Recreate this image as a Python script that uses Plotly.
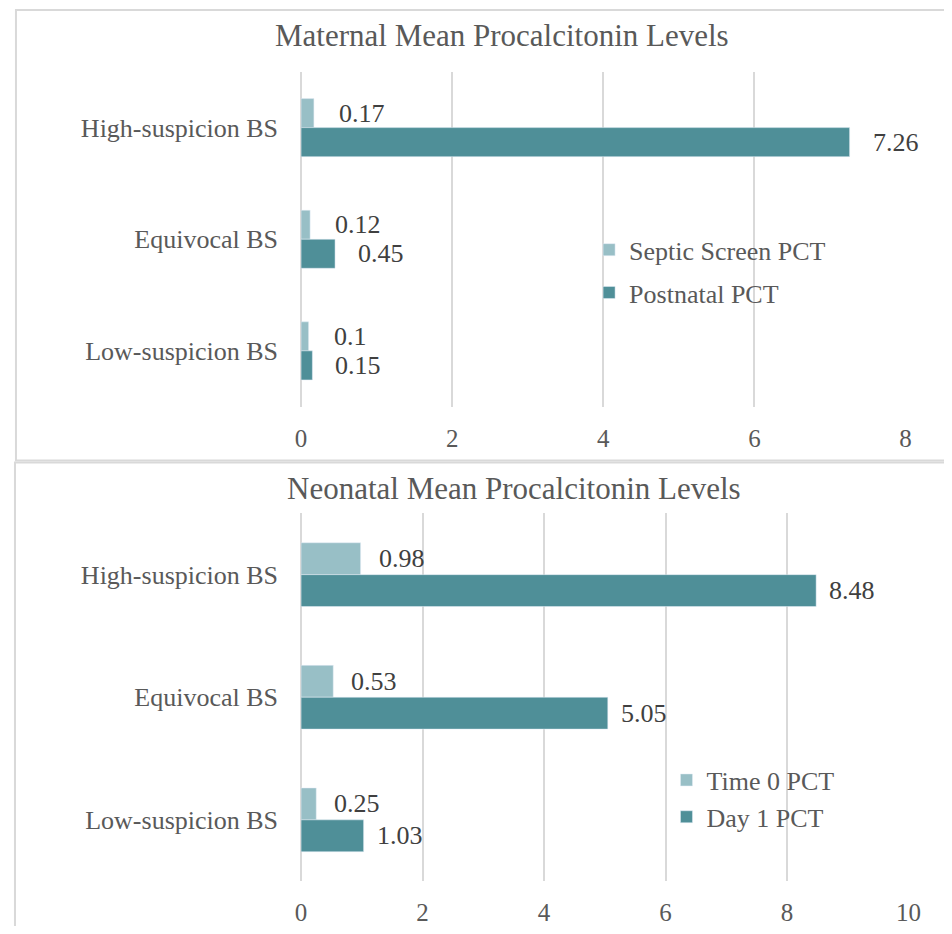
import plotly.graph_objects as go

categories = ["High-suspicion BS", "Equivocal BS", "Low-suspicion BS"]

maternal_septic = [0.17, 0.12, 0.10]
maternal_postnatal = [7.26, 0.45, 0.15]
maternal_labels_septic = ["0.17", "0.12", "0.1"]
maternal_labels_postnatal = ["7.26", "0.45", "0.15"]

neonatal_time0 = [0.98, 0.53, 0.25]
neonatal_day1 = [8.48, 5.05, 1.03]
neonatal_labels_time0 = ["0.98", "0.53", "0.25"]
neonatal_labels_day1 = ["8.48", "5.05", "1.03"]

maternal_ticks = [0, 2, 4, 6, 8]
neonatal_ticks = [0, 2, 4, 6, 8, 10]

LIGHT = "#98BFC6"
DARK = "#4F8F98"
GRID = "#D9D9D9"
TXT = "#595959"
LBL = "#404040"
FONT = "Times New Roman, Liberation Serif, DejaVu Serif, serif"

# page body has an 8px margin; the figure is sized to fit inside the window
OX, OY = 8, 8
W, H = 952 - 2 * OX, 934 - 2 * OY


def px(x):
    return (x - OX) / W


def py(y):
    return 1 - (y - OY) / H


fig = go.Figure()

fig.add_trace(go.Bar(y=categories, x=maternal_septic, orientation="h", name="Septic Screen PCT",
                     marker_color=LIGHT, xaxis="x", yaxis="y", legend="legend",
                     legendgroup="a"))
fig.add_trace(go.Bar(y=categories, x=maternal_postnatal, orientation="h", name="Postnatal PCT",
                     marker_color=DARK, xaxis="x", yaxis="y", legend="legend",
                     legendgroup="b"))
fig.add_trace(go.Bar(y=categories, x=neonatal_time0, orientation="h", name="Time 0 PCT",
                     marker_color=LIGHT, xaxis="x2", yaxis="y2", legend="legend2",
                     legendgroup="c"))
fig.add_trace(go.Bar(y=categories, x=neonatal_day1, orientation="h", name="Day 1 PCT",
                     marker_color=DARK, xaxis="x2", yaxis="y2", legend="legend2",
                     legendgroup="d"))

annotations = []


def add_labels(vals, labels, offset, xref, yref, shift):
    for i, (v, t) in enumerate(zip(vals, labels)):
        annotations.append(dict(x=v, y=i + offset, xref=xref, yref=yref, text=t,
                                showarrow=False, xanchor="left", xshift=shift,
                                font=dict(family=FONT, size=26, color=LBL)))


add_labels(maternal_septic, maternal_labels_septic, -0.13, "x", "y", 23)
add_labels(maternal_postnatal, maternal_labels_postnatal, 0.13, "x", "y", 21)
add_labels(neonatal_time0, neonatal_labels_time0, -0.13, "x2", "y2", 16)
add_labels(neonatal_day1, neonatal_labels_day1, 0.13, "x2", "y2", 11)

annotations.append(dict(x=px(506), y=py(36), xref="paper", yref="paper",
                        text="Maternal Mean Procalcitonin Levels", showarrow=False,
                        xanchor="center", yanchor="middle",
                        font=dict(family=FONT, size=31, color=TXT)))
annotations.append(dict(x=px(518), y=py(490), xref="paper", yref="paper",
                        text="Neonatal Mean Procalcitonin Levels", showarrow=False,
                        xanchor="center", yanchor="middle",
                        font=dict(family=FONT, size=31, color=TXT)))

axis_common = dict(showgrid=True, gridcolor=GRID, gridwidth=1.5, zeroline=True,
                   zerolinecolor=GRID, zerolinewidth=1.5, showline=False,
                   tickfont=dict(family=FONT, size=25, color=TXT), ticks="",
                   ticklabelstandoff=14, fixedrange=True)
yaxis_common = dict(showgrid=False, zeroline=False, showline=False, autorange="reversed",
                    type="category", ticks="", ticklabelstandoff=22,
                    tickfont=dict(family=FONT, size=26, color=TXT))

shapes = [
    dict(type="rect", xref="paper", yref="paper", x0=px(10), x1=1.05,
         y0=py(462), y1=py(10), line=dict(color=GRID, width=2), layer="below"),
    dict(type="rect", xref="paper", yref="paper", x0=px(9), x1=1.05,
         y0=-0.05, y1=py(464), line=dict(color=GRID, width=2), layer="below"),
]

fig.update_layout(
    width=W, height=H, margin=dict(l=0, r=0, t=0, b=0),
    paper_bgcolor="white", plot_bgcolor="white",
    barmode="group", bargap=0.48, bargroupgap=0,
    font=dict(family=FONT, color=TXT),
    xaxis=dict(domain=[px(301), px(918)], range=[0, 8], tickvals=maternal_ticks,
               anchor="y", **axis_common),
    yaxis=dict(domain=[py(408), py(72)], anchor="x", **yaxis_common),
    xaxis2=dict(domain=[px(301), px(921)], range=[0, 10], tickvals=neonatal_ticks,
                anchor="y2", **axis_common),
    yaxis2=dict(domain=[py(884), py(515)], anchor="x2", **yaxis_common),
    legend=dict(x=px(595), y=py(227), xanchor="left", yanchor="top",
                traceorder="grouped", tracegroupgap=6, bgcolor="rgba(0,0,0,0)",
                font=dict(family=FONT, size=26, color=TXT), itemwidth=30),
    legend2=dict(x=px(674), y=py(759), xanchor="left", yanchor="top",
                 traceorder="grouped", tracegroupgap=0, bgcolor="rgba(0,0,0,0)",
                 font=dict(family=FONT, size=26, color=TXT), itemwidth=30),
    annotations=annotations, shapes=shapes,
    showlegend=True,
)

fig.write_html("out.html")
